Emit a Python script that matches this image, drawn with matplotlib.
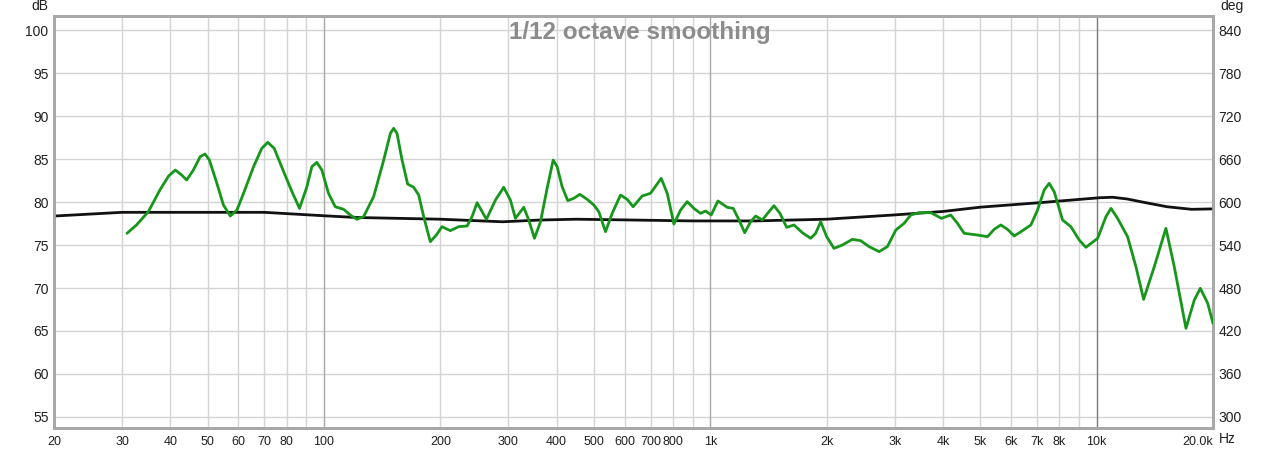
import matplotlib
matplotlib.use("Agg")
import matplotlib.pyplot as plt

# ---------------------------------------------------------
# Data (frequency in Hz)
# ---------------------------------------------------------
spl_freq = [30.9, 32.7, 35.1, 37.6, 39.6, 41.2, 42.8, 44.1, 45.9, 47.8, 49.2, 50.5,
            52.8, 54.9, 57.2, 59.5, 61.9, 65.7, 69.0, 71.5, 74.3, 78.6, 82.6, 86.4,
            90.3, 93.0, 95.8, 98.7, 102.7, 106.9, 112.4, 116.9, 121.7, 126.6, 134.4,
            142.7, 148.5, 151.4, 154.5, 159.2, 164.6, 170.6, 175.8, 181.1, 188.4,
            195.3, 202.0, 212.3, 223.0, 234.6, 241.6, 249.0, 263.2, 277.8, 291.8,
            303.6, 312.9, 328.8, 338.8, 350.4, 363.2, 378.0, 391.8, 401.2, 413.3,
            427.4, 443.0, 459.2, 479.8, 499.3, 514.2, 535.3, 557.0, 585.4, 609.0,
            631.2, 666.0, 699.8, 746.0, 773.3, 804.6, 837.4, 871.0, 906.4, 943.2,
            971.7, 1005, 1046, 1106, 1146, 1186, 1227, 1271, 1310, 1363, 1418, 1461,
            1514, 1576, 1646, 1730, 1818, 1873, 1930, 2000, 2089, 2196, 2332, 2450,
            2576, 2733, 2872, 3020, 3173, 3302, 3470, 3720, 3964, 4190, 4362, 4538,
            4914, 5217, 5428, 5648, 5876, 6114, 6427, 6755, 7030, 7312, 7534, 7762,
            8158, 8573, 9010, 9376, 10056, 10568, 10888, 11324, 12020, 12634, 13226,
            14094, 15106, 15876, 17024, 17890, 18544, 19380, 20000]
spl_db = [76.36, 77.33, 78.88, 81.40, 83.02, 83.72, 83.14, 82.56, 83.72, 85.27, 85.58, 84.88,
          82.17, 79.65, 78.37, 79.07, 81.01, 84.11, 86.24, 86.94, 86.24, 83.53, 81.20, 79.26,
          81.78, 84.11, 84.61, 83.72, 81.01, 79.45, 79.15, 78.49, 77.99, 78.30, 80.62,
          84.88, 87.98, 88.57, 87.98, 84.88, 82.09, 81.71, 80.81, 78.30, 75.39,
          76.16, 77.13, 76.67, 77.13, 77.21, 78.30, 79.92, 77.99, 80.23, 81.71,
          80.23, 78.10, 79.38, 77.91, 75.78, 77.67, 81.60, 84.88, 84.11, 81.78,
          80.16, 80.43, 80.89, 80.31, 79.65, 78.88, 76.55, 78.68, 80.81, 80.31,
          79.45, 80.70, 81.01, 82.75, 81.01, 77.44, 79.07, 80.04, 79.26, 78.68,
          78.95, 78.49, 80.12, 79.38, 79.26, 77.91, 76.43, 77.71, 78.37, 77.91, 78.88, 79.57,
          78.68, 77.05, 77.33, 76.43, 75.78, 76.36, 77.71, 75.97, 74.61, 75.00, 75.66, 75.50,
          74.81, 74.23, 74.81, 76.74, 77.52, 78.49, 78.76, 78.76, 78.10, 78.49, 77.52, 76.36,
          76.16, 75.97, 76.82, 77.33, 76.82, 76.05, 76.67, 77.33, 79.07, 81.40, 82.17, 81.20,
          77.91, 77.13, 75.58, 74.73, 75.78, 78.30, 79.26, 78.10, 75.97, 72.48, 68.68,
          72.48, 76.94, 72.48, 65.31, 68.60, 69.96, 68.22, 65.89]

phase_freq = [20, 30, 50, 70, 100, 121, 200, 290, 360, 450, 900, 1300, 2000, 3000,
              4000, 5000, 7100, 9000, 10200, 11000, 12000, 13000, 15200, 17600, 20000]
phase_deg = [580.4, 585.6, 585.6, 585.6, 580.8, 578.4, 576, 572.4, 574.8, 576, 573.6,
             573.6, 576, 582, 586.8, 592.8, 599, 603.6, 606, 606.6, 604.2, 600.4, 593.4,
             589.8, 590.4]

x_ticks = [20, 30, 40, 50, 60, 70, 80, 90, 100, 200, 300, 400, 500, 600, 700, 800, 900,
           1000, 2000, 3000, 4000, 5000, 6000, 7000, 8000, 9000, 10000, 20000]
x_labels = ["20", "30", "40", "50", "60", "70", "80", "", "100", "200", "300", "400",
            "500", "600", "700", "800", "", "1k", "2k", "3k", "4k", "5k", "6k", "7k",
            "8k", "", "10k", "20.0k"]
decades = [100, 1000, 10000]
db_ticks = [55, 60, 65, 70, 75, 80, 85, 90, 95, 100]
deg_ticks = [300, 360, 420, 480, 540, 600, 660, 720, 780, 840]

DB_LIM = (53.72, 101.63)
FONT = "Liberation Sans"


def db_to_deg(v):
    return 300 + (v - 55) * 12


plt.rcParams['font.family'] = [FONT, 'DejaVu Sans']

fig = plt.figure(figsize=(12.8, 4.5), dpi=100)
fig.patch.set_facecolor("white")
ax = fig.add_axes([54 / 1280, 22 / 450, (1213 - 54) / 1280, (428 - 16) / 450])
ax2 = ax.twinx()

# phase axis goes behind, carries the grid and the black trace
ax.set_zorder(2)
ax2.set_zorder(1)
ax.patch.set_visible(False)

ax.set_xscale("log")
ax.set_xlim(20, 20000)
ax.set_ylim(*DB_LIM)
ax2.set_ylim(db_to_deg(DB_LIM[0]), db_to_deg(DB_LIM[1]))

for d in deg_ticks:
    ax2.axhline(d, color="#d4d4d4", lw=1, zorder=0)
for f in x_ticks:
    if f in decades:
        col = "#7a7a7a" if f == 10000 else "#a8a8a8"
    else:
        col = "#d4d4d4"
    ax2.axvline(f, color=col, lw=1, zorder=0.5)

ax2.plot(phase_freq, phase_deg, color="#111111", lw=2, solid_joinstyle="round", zorder=3)
ax.plot(spl_freq, spl_db, color="#16961a", lw=2, solid_joinstyle="round",
        solid_capstyle="round", zorder=3)

ax.set_xticks(x_ticks)
ax.set_xticklabels(x_labels)
ax.xaxis.set_minor_locator(matplotlib.ticker.NullLocator())
ax.set_yticks(db_ticks)
ax2.set_yticks(deg_ticks)

for a in (ax, ax2):
    a.tick_params(length=0, labelsize=10, colors="#202020")
    for s in a.spines.values():
        s.set_color("#a8a8a8")
        s.set_linewidth(2)
ax.tick_params(axis="x", pad=6, labelsize=9)
ax.tick_params(axis="y", pad=4)
ax2.tick_params(axis="y", pad=4)

# last x label sits to the left of its tick
ax.get_xticklabels()[-1].set_horizontalalignment("right")

fig.text(40 / 1280, 1 - 6 / 450, "dB", ha="center", va="center", fontsize=10, color="#202020")
fig.text(1232 / 1280, 1 - 6 / 450, "deg", ha="center", va="center", fontsize=10, color="#202020")
fig.text(1219 / 1280, 1 - 439 / 450, "Hz", ha="left", va="center", fontsize=10, color="#202020")

fig.text(0.5, 1 - 32 / 450, "1/12 octave smoothing", ha="center", va="center",
         fontsize=17.5, fontweight="bold", color="#8c8c8c", zorder=5)

fig.savefig("out.png", dpi=100, facecolor="white")
